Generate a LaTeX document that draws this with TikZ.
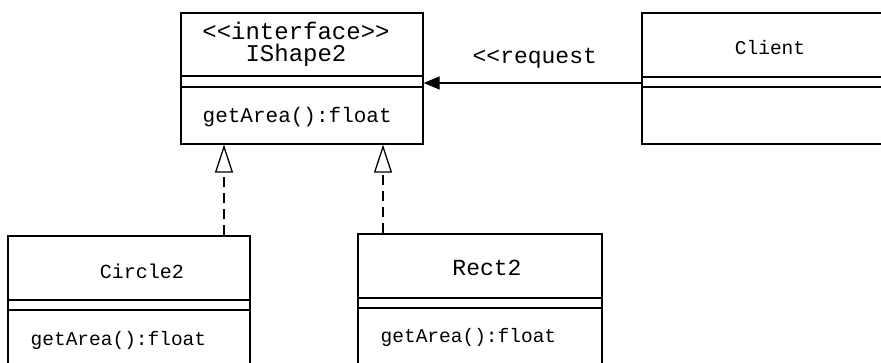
\documentclass[tikz,border=0pt]{standalone}
\usepackage{fontspec}
\setmonofont{Liberation Mono}
\usetikzlibrary{arrows.meta}
\begin{document}
\begin{tikzpicture}[x=1pt,y=-1pt,line width=1.3pt,
  box/.style={draw,rectangle,inner sep=0pt},
  txt/.style={inner sep=0pt,font=\ttfamily\fontsize{#1}{22}\selectfont},
  real/.style={dash pattern=on 10pt off 6pt,-{Triangle[open,length=28pt,width=18pt]}},
  req/.style={-{Triangle[length=16pt,width=13pt]}}]
\useasboundingbox (0,0) rectangle (881,363);
\clip (0,0) rectangle (881,363);
% IShape2
\node[box,minimum width=242pt,minimum height=131pt] (ishape) at (302,78.5) {};
\draw (ishape.west |- 0,76) -- (ishape.east |- 0,76);
\draw (ishape.west |- 0,87) -- (ishape.east |- 0,87);
\node[txt=24,align=center] (iname) at (296,44) {<<interface>>\\IShape2};
\node[txt=21,anchor=west] (iop) at (202,117) {getArea():float};
% Client
\node[box,minimum width=258pt,minimum height=131pt] (client) at (771,78.5) {};
\draw (client.west |- 0,77) -- (client.east |- 0,77);
\draw (client.west |- 0,87) -- (client.east |- 0,87);
\node[txt=19.5] (cname) at (770,48) {Client};
% Circle2
\node[box,minimum width=242pt,minimum height=144pt] (circ) at (129,308) {};
\draw (circ.west |- 0,300) -- (circ.east |- 0,300);
\draw (circ.west |- 0,310) -- (circ.east |- 0,310);
\node[txt=20] (circname) at (142,271) {Circle2};
\node[txt=19.5,anchor=west] (circop) at (30,340) {getArea():float};
% Rect2
\node[box,minimum width=244pt,minimum height=146pt] (rect) at (480,307) {};
\draw (rect.west |- 0,298) -- (rect.east |- 0,298);
\draw (rect.west |- 0,308) -- (rect.east |- 0,308);
\node[txt=23] (rectname) at (487,268) {Rect2};
\node[txt=19.5,anchor=west] (rectop) at (380,337) {getArea():float};
% connectors
\draw[req] ([yshift=-4.5pt]client.west) -- ([yshift=-4.5pt]ishape.east);
\node[txt=23,anchor=west] (reqlbl) at (472,58) {<<request};
\draw[real] (circ.north -| 224,0) -- (ishape.south -| 224,0);
\draw[real] (rect.north -| 383,0) -- (ishape.south -| 383,0);
\end{tikzpicture}
\end{document}
